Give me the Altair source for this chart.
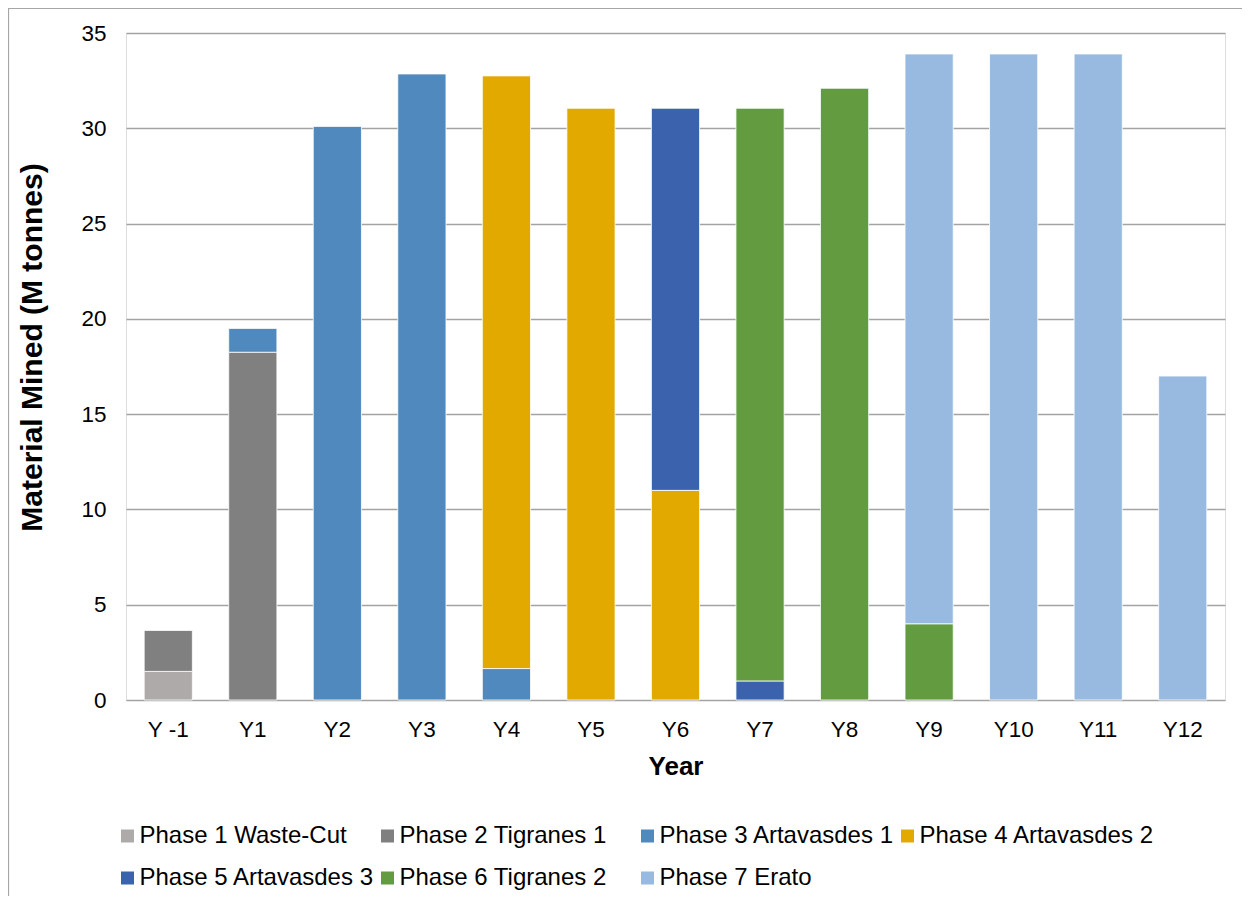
import altair as alt
import pandas as pd

years = ["Y -1", "Y1", "Y2", "Y3", "Y4", "Y5", "Y6", "Y7", "Y8", "Y9", "Y10", "Y11", "Y12"]
phase_names = [
    "Phase 1 Waste-Cut",
    "Phase 2 Tigranes 1",
    "Phase 3 Artavasdes 1",
    "Phase 4 Artavasdes 2",
    "Phase 5 Artavasdes 3",
    "Phase 6 Tigranes 2",
    "Phase 7 Erato",
]
phase_colors = ["#AEAAA9", "#808080", "#4F89BD", "#E2AA00", "#3A62AD", "#629B40", "#98B9E0"]

#            Y-1   Y1     Y2    Y3     Y4     Y5     Y6     Y7     Y8    Y9    Y10   Y11   Y12
phase1 = [1.5,  0,     0,    0,     0,     0,     0,     0,     0,    0,    0,    0,    0]
phase2 = [2.15, 18.25, 0,    0,     0,     0,     0,     0,     0,    0,    0,    0,    0]
phase3 = [0,    1.25,  30.1, 32.85, 1.65,  0,     0,     0,     0,    0,    0,    0,    0]
phase4 = [0,    0,     0,    0,     31.1,  31.05, 11.0,  0,     0,    0,    0,    0,    0]
phase5 = [0,    0,     0,    0,     0,     0,     20.05, 1.0,   0,    0,    0,    0,    0]
phase6 = [0,    0,     0,    0,     0,     0,     0,     30.05, 32.1, 4.0,  0,    0,    0]
phase7 = [0,    0,     0,    0,     0,     0,     0,     0,     0,    29.9, 33.9, 33.9, 17.0]

series = [phase1, phase2, phase3, phase4, phase5, phase6, phase7]
y_ticks = [0, 5, 10, 15, 20, 25, 30, 35]

rows = []
for idx, (name, vals) in enumerate(zip(phase_names, series)):
    for yr, v in zip(years, vals):
        if v > 0:
            rows.append({"Year": yr, "Phase": name, "Value": v, "Order": idx})
df = pd.DataFrame(rows)

FONT = "Liberation Sans"

bars = alt.Chart(df).mark_bar(stroke="#FFFFFF", strokeWidth=0.8).encode(
    x=alt.X(
        "Year:N",
        sort=years,
        scale=alt.Scale(paddingInner=0.43, paddingOuter=0.215),
        axis=alt.Axis(
            title="Year",
            labelAngle=0,
            labelFontSize=22.5,
            labelFont=FONT,
            labelColor="#000000",
            labelPadding=18,
            ticks=False,
            tickSize=0,
            domain=False,
            grid=False,
            titleFont=FONT,
            titleFontSize=26,
            titleFontWeight="bold",
            titleColor="#000000",
            titlePadding=13,
        ),
    ),
    y=alt.Y(
        "Value:Q",
        stack="zero",
        scale=alt.Scale(domain=[0, 35], nice=False),
        axis=alt.Axis(
            title="Material Mined (M tonnes)",
            values=y_ticks,
            labelFontSize=22.5,
            labelFont=FONT,
            labelColor="#000000",
            labelPadding=20,
            ticks=False,
            tickSize=0,
            domain=False,
            grid=True,
            gridColor="#A3A3A3",
            gridWidth=1.3,
            titleFont=FONT,
            titleFontSize=30,
            titleFontWeight="bold",
            titleColor="#000000",
            titlePadding=33,
            titleY=314,
        ),
    ),
    color=alt.Color(
        "Phase:N",
        scale=alt.Scale(domain=phase_names, range=phase_colors),
        legend=alt.Legend(
            title=None,
            orient="none",
            legendX=-10.5,
            legendY=791,
            padding=0,
            direction="horizontal",
            columns=4,
            gridAlign="all",
            symbolType="square",
            symbolSize=169,
            symbolStrokeWidth=0,
            labelFont=FONT,
            labelFontSize=24,
            labelColor="#000000",
            labelLimit=400,
            labelOffset=0,
            columnPadding=1,
            rowPadding=18,
        ),
    ),
    order=alt.Order("Order:Q", sort="ascending"),
)

frame = alt.Chart(pd.DataFrame({"f": [0]})).mark_rect(
    fill="transparent", stroke="#A6A6A6", strokeWidth=1.2, clip=False
).encode(
    x=alt.value(-117.5), x2=alt.value(1400), y=alt.value(-24.5), y2=alt.value(1100)
)

chart = alt.layer(frame, bars).properties(
    width=1099,
    height=667,
    autosize=alt.AutoSizeParams(type="none"),
    padding={"left": 118, "top": 25, "right": 17, "bottom": 196},
).configure_view(strokeWidth=0).configure(background="#FFFFFF")

chart.save("out.html", embed_options={"renderer": "svg", "actions": False})
